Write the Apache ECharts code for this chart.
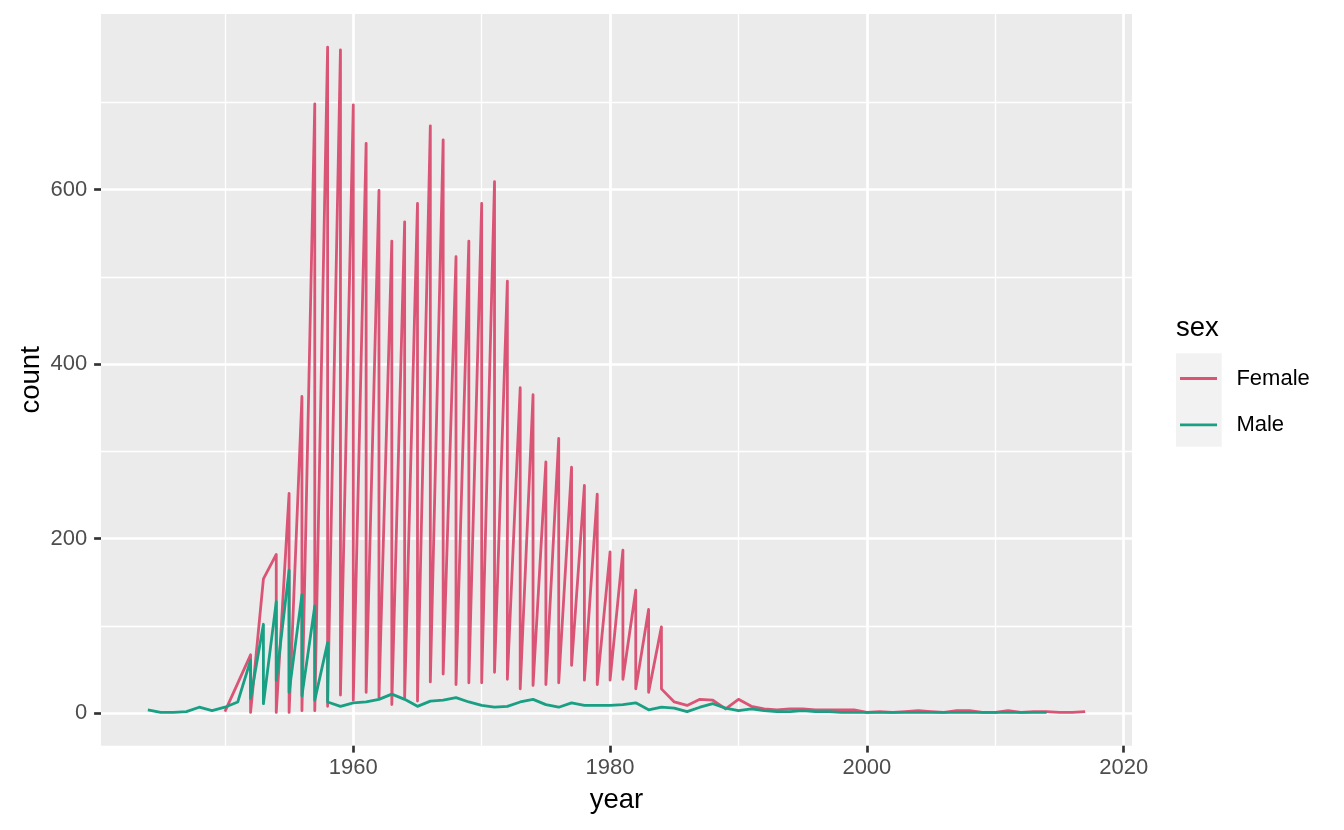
<!DOCTYPE html>
<html><head><meta charset="utf-8">
<script src="https://cdn.jsdelivr.net/npm/echarts@6/dist/echarts.min.js"></script>
<style>html,body{margin:0;padding:0;background:#fff}#c{width:1344px;height:830px}</style>
</head><body><div id="c"></div>
<script>
// ---- data ----
const femaleYears = [1950,1952,1953,1954,1955,1956,1957,1958,1959,1960,1961,1962,1963,1964,1965,1966,1967,1968,1969,1970,
  1971,1972,1973,1974,1975,1976,1977,1978,1979,1980,1981,1982,1983,1984,1985,1986,1987,1988,1989,1990,
  1991,1992,1993,1994,1995,1996,1997,1998,1999,2000,2001,2002,2003,2004,2005,2006,2007,2008,2009,2010,
  2011,2012,2013,2014,2015,2016,2017];
// first row recorded for each year
const femaleFirst = [2,67,154,182,252,363,698,763,760,697,653,599,541,563,584,673,657,523,541,584,
  609,495,373,365,288,315,282,261,251,185,187,141,119,99,13,9,16,15,5,16,
  8,5,4,5,5,4,4,4,4,1,2,1,2,3,2,1,3,3,1,1,
  3,1,2,2,1,1,2];
// second row for the same year (null when there is only one)
const femaleSecond = [null,1,null,1,1,3,3,8,21,15,24,18,10,18,14,36,45,33,35,35,
  47,39,28,32,33,35,55,38,33,38,39,28,24,28,null,null,null,null,null,null,
  null,null,null,null,null,null,null,null,null,null,null,null,null,null,null,null,null,null,null,null,
  null,null,null,null,null,null,null];

const maleYears = [1944,1945,1946,1947,1948,1949,1950,1951,1952,1953,1954,1955,1956,1957,1958,1959,1960,1961,1962,1963,
  1964,1965,1966,1967,1968,1969,1970,1971,1972,1973,1974,1975,1976,1977,1978,1979,1980,1981,1982,1983,
  1984,1985,1986,1987,1988,1989,1990,1991,1992,1993,1994,1995,1996,1997,1998,1999,2000,2001,2002,2003,
  2004,2005,2006,2007,2008,2009,2010,2011,2012,2013,2014];
const maleFirst = [4,1,1,2,7,3,7,13,61,102,128,164,136,123,81,8,12,13,16,22,
  16,8,14,15,18,13,9,7,8,13,16,10,7,12,9,9,9,10,12,4,
  7,6,2,7,11,6,3,5,3,2,2,3,2,2,1,1,1,1,1,1,
  1,1,1,1,1,1,1,1,1,1,1];
const maleSecond = [null,null,null,null,null,null,null,null,17,11,38,24,20,15,13,null,null,null,null,null,
  null,null,null,null,null,null,null,null,null,null,null,null,null,null,null,null,null,null,null,null,
  null,null,null,null,null,null,null,null,null,null,null,null,null,null,null,null,null,null,null,null,
  null,null,null,null,null,null,null,null,null,null,null];

const seriesNames = ['Female', 'Male'];
const xTickLabels = [1960, 1980, 2000, 2020];
const xMinorBreaks = [1950, 1970, 1990, 2010];
const yTickLabels = [0, 200, 400, 600];
const yMinorBreaks = [100, 300, 500, 700];

// ---- build point sequences (rows in data order, like geom_line) ----
function buildPoints(years, first, second) {
  const pts = [];
  years.forEach((y, i) => {
    pts.push([y, first[i]]);
    if (second[i] !== null) pts.push([y, second[i]]);
  });
  return pts;
}
const femalePts = buildPoints(femaleYears, femaleFirst, femaleSecond);
const malePts = buildPoints(maleYears, maleFirst, maleSecond);

const allPts = femalePts.concat(malePts);
const xs = allPts.map(p => p[0]), ys = allPts.map(p => p[1]);
const xMin = Math.min(...xs), xMax = Math.max(...xs);
const yMin = Math.min(...ys), yMax = Math.max(...ys);
const xPad = (xMax - xMin) * 0.05, yPad = (yMax - yMin) * 0.05;

const FONT = "'Liberation Sans', Arial, Helvetica, sans-serif";
const COLORS = ['#DA5475', '#19A084'];

const chart = echarts.init(document.getElementById('c'), null, {renderer: 'canvas'});

function mkX(major) {
  return {
    type: 'value', gridIndex: 0,
    min: xMin - xPad, max: xMax + xPad,
    name: major ? 'year' : '', nameLocation: 'middle', nameGap: 41, nameMoveOverlap: false,
    nameTextStyle: {fontSize: 27.5, color: '#000', fontFamily: FONT},
    axisLine: {show: false, onZero: false},
    axisTick: {show: major, length: 6.9, customValues: major ? xTickLabels : xMinorBreaks,
      lineStyle: {color: '#333333', width: 2.67}},
    axisLabel: {show: major, customValues: major ? xTickLabels : xMinorBreaks, margin: 11.4,
      color: '#4D4D4D', fontSize: 22, fontFamily: FONT, formatter: v => String(v)},
    splitLine: {show: true, lineStyle: {color: '#FFFFFF', width: major ? 2.67 : 1.33}},
    minorTick: {show: false}, minorSplitLine: {show: false}
  };
}
function mkY(major) {
  return {
    type: 'value', gridIndex: 0, position: 'left',
    min: yMin - yPad, max: yMax + yPad,
    name: major ? 'count' : '', nameLocation: 'middle', nameGap: 56, nameMoveOverlap: false,
    nameTextStyle: {fontSize: 27.5, color: '#000', fontFamily: FONT},
    axisLine: {show: false, onZero: false},
    axisTick: {show: major, length: 6.9, customValues: major ? yTickLabels : yMinorBreaks,
      lineStyle: {color: '#333333', width: 2.67}},
    axisLabel: {show: major, customValues: major ? yTickLabels : yMinorBreaks, margin: 13.7,
      color: '#4D4D4D', fontSize: 22, fontFamily: FONT, formatter: v => String(v)},
    splitLine: {show: true, lineStyle: {color: '#FFFFFF', width: major ? 2.67 : 1.33}},
    minorTick: {show: false}, minorSplitLine: {show: false}
  };
}

chart.setOption({
  animation: false,
  backgroundColor: '#FFFFFF',
  grid: {left: 101, right: 212, top: 14, bottom: 84.3, show: true,
    backgroundColor: '#EBEBEB', borderWidth: 0, containLabel: false, outerBoundsMode: 'none'},
  xAxis: [mkX(true), mkX(false)],
  yAxis: [mkY(true), mkY(false)],
  legend: {
    orient: 'vertical', left: 1180, top: 367.5, padding: 0,
    icon: 'rect', itemWidth: 37, itemHeight: 2.8, itemGap: 24.3,
    selectedMode: false, data: seriesNames,
    textStyle: {fontSize: 22, color: '#000', fontFamily: FONT, padding: [0, 0, 0, 14.4]}
  },
  graphic: [
    {type: 'rect', z: 1, shape: {x: 1176, y: 353.3, width: 45.7, height: 46.6}, style: {fill: '#F2F2F2'}},
    {type: 'rect', z: 1, shape: {x: 1176, y: 400.1, width: 45.7, height: 46.6}, style: {fill: '#F2F2F2'}},
    {type: 'text', z: 5, x: 1176, y: 328.8, style: {text: 'sex', fontSize: 27.5, fill: '#000',
      fontFamily: FONT, verticalAlign: 'middle', align: 'left'}}
  ],
  series: [
    {name: seriesNames[0], type: 'line', xAxisIndex: 0, yAxisIndex: 0, data: femalePts,
      symbol: 'none', showSymbol: false, silent: true,
      lineStyle: {width: 2.8, color: COLORS[0], join: 'round', cap: 'butt'}, itemStyle: {color: COLORS[0]}},
    {name: seriesNames[1], type: 'line', xAxisIndex: 0, yAxisIndex: 0, data: malePts,
      symbol: 'none', showSymbol: false, silent: true,
      lineStyle: {width: 2.8, color: COLORS[1], join: 'round', cap: 'butt'}, itemStyle: {color: COLORS[1]}}
  ]
});
</script>
</body></html>
